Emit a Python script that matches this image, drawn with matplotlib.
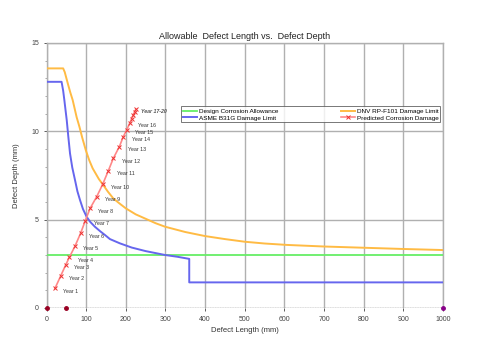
import matplotlib
matplotlib.use('Agg')
import matplotlib.pyplot as plt
from matplotlib.ticker import MultipleLocator

plt.rcParams['font.family'] = ['Liberation Sans', 'DejaVu Sans']

# design corrosion allowance (mm)
dca_x = [0, 1000]
dca_y = [3.0, 3.0]

# ASME B31G damage limit
asme_x = [0, 38, 42, 45, 48, 51, 55, 59.3, 65, 71.9, 78, 84.5, 92, 101, 110, 122, 135, 147.5, 160,
          185, 215, 250, 299, 330, 360, 360, 1000]
asme_y = [12.8, 12.8, 12.3, 11.77, 11.2, 10.64, 9.7, 8.75, 7.95, 7.24, 6.6, 6.11, 5.6, 5.17, 4.88,
          4.6, 4.35, 4.13, 3.9, 3.66, 3.42, 3.22, 3.0, 2.9, 2.78, 1.45, 1.45]

# DNV RP-F101 damage limit
dnv_x = [0, 42, 46, 49, 55, 60, 66, 76, 83, 90, 99, 108, 116.5, 132, 143, 155, 168.5, 185, 200,
         225, 250, 275, 299, 350, 400, 450, 500, 550, 606, 700, 800, 900, 1000]
dnv_y = [13.56, 13.56, 13.35, 13.1, 12.6, 12.2, 11.77, 10.8, 10.26, 9.65, 8.94, 8.35, 7.9, 7.3,
         6.96, 6.58, 6.2, 5.9, 5.64, 5.3, 5.05, 4.8, 4.6, 4.3, 4.07, 3.9, 3.75, 3.65, 3.57, 3.48,
         3.41, 3.34, 3.28]

# predicted corrosion damage, year by year
years = list(range(1, 21))
pred_x = [21.4, 35.7, 48.3, 57.6, 71.9, 86, 98, 110, 126.6, 141.7, 156, 168.5, 183.7, 193.8, 202, 210.6,
          215, 219, 222, 225.5]
pred_y = [1.11, 1.81, 2.43, 2.87, 3.5, 4.23, 4.95, 5.64, 6.3, 7.0, 7.77, 8.47, 9.13, 9.7, 10.07, 10.49,
          10.72, 10.93, 11.1, 11.25]

# points on the zero line
base_x = [0, 48]
base_y = [0, 0]
end_x = [1000]
end_y = [0]

fig = plt.figure(figsize=(5.0, 3.52), dpi=100)
ax = fig.add_axes([0.093, 0.125, 0.793, 0.753])

ax.plot([0, 1000], [0, 0], color='#777777', lw=0.9, ls=(0, (1, 1)), zorder=2)
ax.plot(dca_x, dca_y, color='#66ee66', lw=1.3, label='Design Corrosion Allowance', zorder=3)
ax.plot(asme_x, asme_y, color='#6666ee', lw=1.4, label='ASME B31G Damage Limit', zorder=3)
ax.plot(dnv_x, dnv_y, color='#ffbb44', lw=1.4, label='DNV RP-F101 Damage Limit', zorder=3)
ax.plot(pred_x, pred_y, color='#ff8888', lw=1.2, marker='x', ms=2.2, mec='#ee3333', mew=0.7,
        label='Predicted Corrosion Damage', zorder=4)
ax.plot(base_x, base_y, ls='none', marker='o', ms=2.5, color='#990022', zorder=5, clip_on=False)
ax.plot(end_x, end_y, ls='none', marker='o', ms=2.5, color='#880088', zorder=5, clip_on=False)

for i, (px, py) in enumerate(zip(pred_x, pred_y)):
    if years[i] <= 16:
        ax.annotate(f'Year {years[i]}', (px, py), xytext=(6, -2), textcoords='offset points',
                    fontsize=3.8, color='#333333', va='center')

# the last few years crowd together at the top end of the line
ax.annotate(f'Year {years[16]}-{years[-1]}', (pred_x[-1], pred_y[-1]), xytext=(4, -1.5),
            textcoords='offset points', fontsize=3.8, color='#555555', va='center',
            style='italic', fontweight='bold')

ax.set_xlim(0, 1000)
ax.set_ylim(0, 15)
ax.xaxis.set_major_locator(MultipleLocator(100))
ax.yaxis.set_major_locator(MultipleLocator(5))
ax.yaxis.set_minor_locator(MultipleLocator(1))
ax.grid(True, which='major', color='#b0b0b0', lw=1.0)
ax.set_axisbelow(True)
for s in ax.spines.values():
    s.set_color('#b0b0b0')
    s.set_linewidth(1.0)
ax.spines['bottom'].set_visible(False)
ax.tick_params(labelsize=5, colors='#444444', length=2, width=0.6)
ax.tick_params(which='minor', length=1.5, width=0.5, colors='#888888')

ax.set_title('Allowable  Defect Length vs.  Defect Depth', fontsize=6.5, color='#222222', pad=3)
ax.set_xlabel('Defect Length (mm)', fontsize=5.5, color='#333333', labelpad=3)
ax.set_ylabel('Defect Depth (mm)', fontsize=5.5, color='#333333', labelpad=8)

h, l = ax.get_legend_handles_labels()
leg = ax.legend(h, l, ncol=2,
                bbox_to_anchor=(0.34, 0.70, 0.653, 0.085), mode='expand', loc='lower left',
                fontsize=4.6, frameon=True, fancybox=False, edgecolor='#555555',
                handlelength=2.2, handletextpad=0.2, borderpad=0.3, labelspacing=0.2,
                borderaxespad=0)
leg.get_frame().set_linewidth(0.7)

fig.savefig('out.png', dpi=100)
